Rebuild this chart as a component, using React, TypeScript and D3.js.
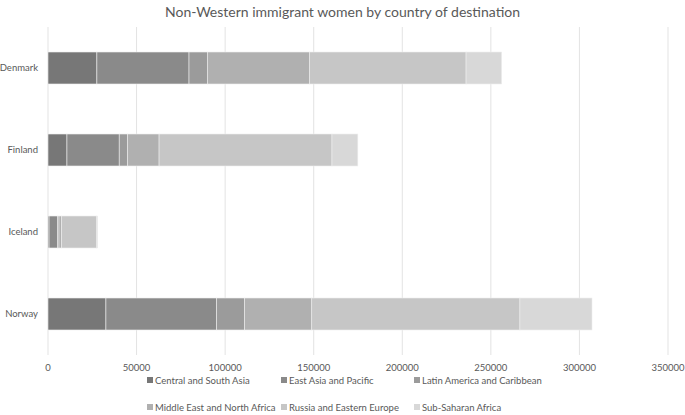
import React from "react";
import * as d3 from "d3";

const WIDTH = 685;
const HEIGHT = 415;
const MARGIN = { top: 27, left: 48, right: 15, bottom: 60 };

const countries = ["Denmark", "Finland", "Iceland", "Norway"];
const regions = [
  "Central and South Asia",
  "East Asia and Pacific",
  "Latin America and Caribbean",
  "Middle East and North Africa",
  "Russia and Eastern Europe",
  "Sub-Saharan Africa"
];
const centralSouthAsia = [27600, 10700, 600, 32700];
const eastAsiaPacific = [52000, 29500, 4800, 62500];
const latinAmerica = [10400, 4700, 800, 15800];
const middleEast = [57600, 17800, 1500, 37900];
const russiaEastEurope = [88400, 97600, 19800, 117500];
const subSaharan = [20100, 14600, 500, 40700];
const xTicks = [0, 50000, 100000, 150000, 200000, 250000, 300000, 350000];

const colors = ["#777777", "#8a8a8a", "#9b9b9b", "#b0b0b0", "#c6c6c6", "#d8d8d8"];
const FONT = "Lato, 'Open Sans', sans-serif";
const TEXT = "#595959";

export default function App() {
  const series = [centralSouthAsia, eastAsiaPacific, latinAmerica, middleEast, russiaEastEurope, subSaharan];
  const rows = countries.map((c, i) => {
    const r: any = { country: c };
    regions.forEach((reg, j) => (r[reg] = series[j][i]));
    return r;
  });
  const stacked = d3.stack().keys(regions)(rows);

  const x = d3.scaleLinear().domain([0, 350000]).range([MARGIN.left, WIDTH - MARGIN.right - 2]);
  const y = d3
    .scaleBand()
    .domain(countries)
    .range([MARGIN.top, HEIGHT - MARGIN.bottom])
    .paddingInner(0.61)
    .paddingOuter(0.305);

  const legendCols = [147, 281, 414];
  const legendRows = [381, 408];

  return (
    <div style={{ position: "absolute", left: 0, top: 0 }}>
      <svg width={WIDTH} height={HEIGHT} style={{ display: "block", background: "#fff" }}>
        <text x={WIDTH / 2} y={17} textAnchor="middle" fontFamily={FONT} fontSize={14} fill={TEXT}>
          Non-Western immigrant women by country of destination
        </text>
        {xTicks.map(t => (
          <line key={t} x1={x(t)} x2={x(t)} y1={MARGIN.top} y2={HEIGHT - MARGIN.bottom} stroke="#e3e3e3" strokeWidth={1} />
        ))}
        {stacked.map((s, j) => (
          <g key={regions[j]} fill={colors[j]}>
            {s.map((d, i) => (
              <rect
                key={countries[i]}
                x={x(d[0])}
                y={y(countries[i])}
                width={x(d[1]) - x(d[0])}
                height={y.bandwidth()}
                stroke="#ededed"
                strokeWidth={0.6}
              />
            ))}
          </g>
        ))}
        {countries.map(c => (
          <text
            key={c}
            x={MARGIN.left - 10}
            y={(y(c) as number) + y.bandwidth() / 2}
            dy="0.35em"
            textAnchor="end"
            fontFamily={FONT}
            fontSize={9.5}
            fill={TEXT}
          >
            {c}
          </text>
        ))}
        {xTicks.map(t => (
          <text key={t} x={x(t)} y={371} textAnchor="middle" fontFamily={FONT} fontSize={9.5} fill={TEXT}>
            {t}
          </text>
        ))}
        {regions.map((r, j) => {
          const lx = legendCols[j % 3];
          const ly = legendRows[Math.floor(j / 3)];
          return (
            <g key={r}>
              <rect x={lx} y={ly - 4} width={6} height={6} fill={colors[j]} />
              <text x={lx + 8} y={ly} dy="0.33em" fontFamily={FONT} fontSize={9.5} fill={TEXT}>
                {r}
              </text>
            </g>
          );
        })}
      </svg>
    </div>
  );
}
